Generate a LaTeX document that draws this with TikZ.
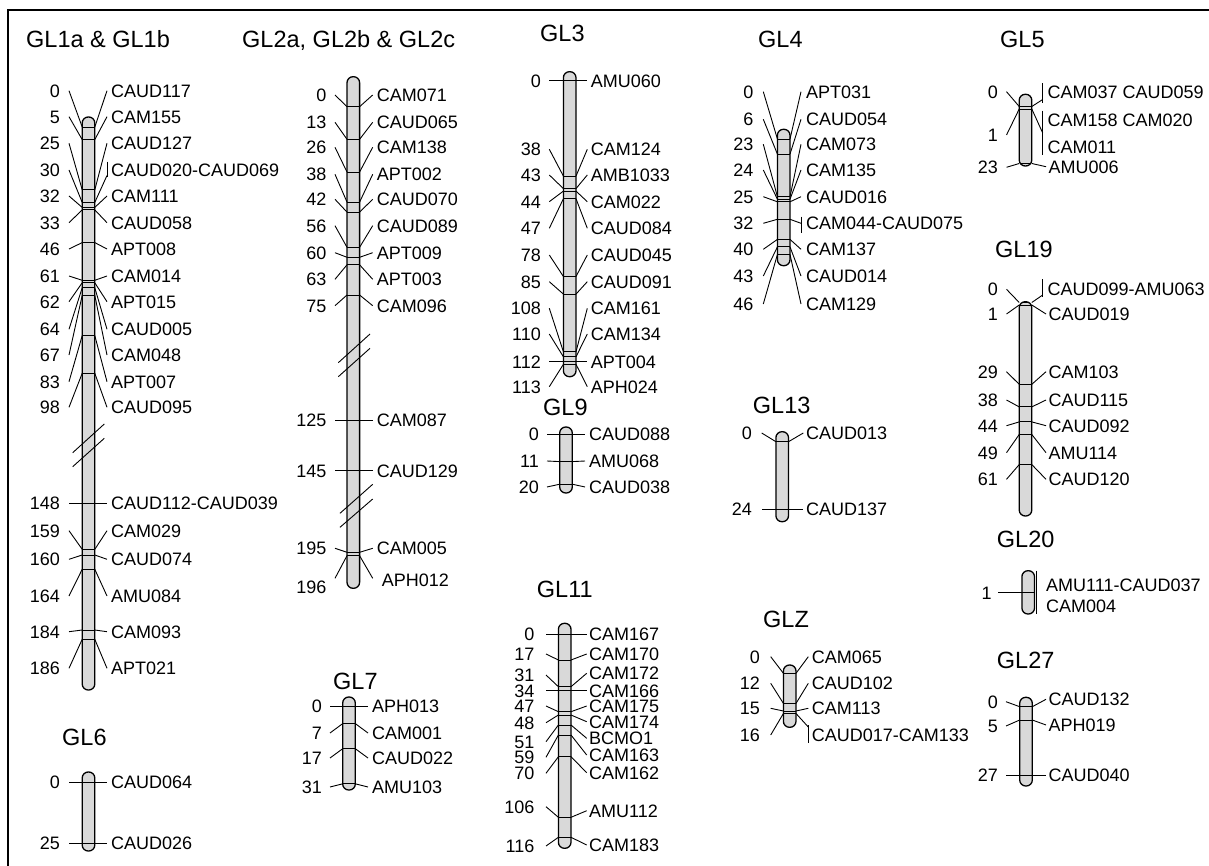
\documentclass[tikz,border=0pt]{standalone}
\usepackage{fontspec}
\setmainfont{Liberation Sans}
\definecolor{barcol}{RGB}{217,217,217}
\newcounter{lbl}
% chromosome geometry: centre x, half width, left/right connector ends, number edge, name start
\newcommand{\setchrom}[6]{\def\cx{#1}\def\hw{#2}\def\xL{#3}\def\xR{#4}\def\numX{#5}\def\nameX{#6}}
\newcommand{\drawbar}[2]{\def\btop{#1}\def\bbot{#2}%
  \fill[barcol,rounded corners=6pt] (\cx-\hw,#1) rectangle (\cx+\hw,#2);}
\newcommand{\outline}{\draw[barline,rounded corners=6pt] (\cx-\hw,\btop) rectangle (\cx+\hw,\bbot);}
\newcommand{\band}[1]{\begin{scope}\clip[rounded corners=6pt] (\cx-\hw,\btop) rectangle (\cx+\hw,\bbot);
  \draw[ln] (\cx-\hw-1,#1) -- (\cx+\hw+1,#1);\end{scope}}
% marker: band y, left label y, right label y, position, name
\newcommand{\mk}[5]{\band{#1}\stepcounter{lbl}%
  \node[lab,anchor=east] (p\thelbl) at (\numX,#2) {#4};
  \node[lab,anchor=west] (m\thelbl) at (\nameX,#3) {#5};
  \draw[ln] (\cx-\hw,#1) -- (\xL,#2);
  \draw[ln] (\cx+\hw,#1) -- (\xR,#3);}
% marker ending on a vertical bar: band y, label y, join y, bar top, bar bottom, position, name, bar x
\newcommand{\mkt}[8]{\band{#1}\stepcounter{lbl}%
  \node[lab,anchor=east] (p\thelbl) at (\numX,#2) {#6};
  \node[lab,anchor=west] (m\thelbl) at (\nameX,#2) {#7};
  \draw[ln] (\cx-\hw,#1) -- (\xL,#2);
  \draw[ln] (\cx+\hw,#1) -- (#8,#3);
  \draw[ln] (#8,#4) -- (#8,#5);}
\tikzset{
  ln/.style={line width=0.9pt},
  barline/.style={line width=1.3pt},
  lab/.style={inner sep=0pt,font=\fontsize{18}{18}\selectfont,text height=12.9pt,text depth=0pt},
  ttl/.style={inner sep=0pt,anchor=west,font=\fontsize{23.5}{23.5}\selectfont,text height=16.8pt,text depth=0pt},
}
\begin{document}
\begin{tikzpicture}[x=1pt,y=-1pt]
\useasboundingbox (0,0) rectangle (1209,866);
\draw[line width=1.3pt] (8,866) -- (8,10) -- (1209,10);

% ---------------- GL1a & GL1b
\node[ttl] (t1) at (26,39) {GL1a \& GL1b};
\setchrom{88.5}{6.3}{69}{107}{60}{111}
\drawbar{117}{690}
\mk{127}{90.7}{90.7}{0}{CAUD117}
\mk{139.6}{116.7}{116.7}{5}{CAM155}
\mk{189.8}{143.3}{143.3}{25}{CAUD127}
\mkt{202.4}{170}{175.5}{161.7}{176.7}{30}{CAUD020-CAUD069}{107}
\mk{207.4}{196}{196}{32}{CAM111}
\mk{209.9}{222.7}{222.7}{33}{CAUD058}
\mk{242.6}{249}{249}{46}{APT008}
\mk{280.3}{276}{276}{61}{CAM014}
\mk{282.8}{301.7}{301.7}{62}{APT015}
\mk{287.8}{329.3}{329.3}{64}{CAUD005}
\mk{295.4}{355}{355}{67}{CAM048}
\mk{335.6}{381.7}{381.7}{83}{APT007}
\mk{373.3}{407.3}{407.3}{98}{CAUD095}
\mk{503.3}{503.3}{503.3}{148}{CAUD112-CAUD039}
\mk{549.3}{530.7}{530.7}{159}{CAM029}
\mk{555}{559.3}{559.3}{160}{CAUD074}
\mk{569.3}{596}{596}{164}{AMU084}
\mk{630}{631.7}{631.7}{184}{CAM093}
\mk{639.3}{668.3}{668.3}{186}{APT021}
\outline
\draw[ln] (72.7,452.7) -- (104.3,424) (72.7,466.7) -- (104.3,438.3);

% ---------------- GL6
\node[ttl] (t6) at (62,737) {GL6};
\drawbar{772}{851}
\mk{782}{782}{782}{0}{CAUD064}
\mk{843}{843}{843}{25}{CAUD026}
\outline

% ---------------- GL2a, GL2b & GL2c
\node[ttl] (t2) at (242,39) {GL2a, GL2b \& GL2c};
\setchrom{353.3}{6.3}{335}{372.7}{326.7}{376.7}
\drawbar{76.7}{588.3}
\mk{106.7}{95}{95}{0}{CAM071}
\mk{139.3}{122.3}{122.3}{13}{CAUD065}
\mk{172}{147.3}{147.3}{26}{CAM138}
\mk{202.1}{174.3}{174.3}{38}{APT002}
\mk{212.1}{199.3}{199.3}{42}{CAUD070}
\mk{247.3}{225.7}{225.7}{56}{CAUD089}
\mk{257.3}{252.7}{252.7}{60}{APT009}
\mk{264.8}{279.3}{279.3}{63}{APT003}
\mk{295}{305.7}{305.7}{75}{CAM096}
\mk{420}{420}{420}{125}{CAM087}
\mk{470.7}{470.7}{470.7}{145}{CAUD129}
\mk{552.3}{548.3}{548.3}{195}{CAM005}
\band{555.7}
\draw[ln] (\cx-\hw,555.7) -- (\xL,578.3) (\cx+\hw,555.7) -- (\xR,578.3);
\node[lab,anchor=east] (p196) at (\numX,586.7) {196};
\node[lab,anchor=west] (m196) at (381.7,580) {APH012};
\outline
\draw[ln] (338.3,362.7) -- (370,334) (338.3,376.7) -- (370,348.3);
\draw[ln] (340,513.3) -- (372.7,484.3) (340,527.3) -- (372.7,499);

% ---------------- GL7
\node[ttl] (t7) at (333,681) {GL7};
\setchrom{349}{6.3}{330}{368}{322}{372}
\drawbar{697}{790}
\mk{706}{706}{706}{0}{APH013}
\mk{723.6}{733}{733}{7}{CAM001}
\mk{748.7}{758}{758}{17}{CAUD022}
\mk{783.8}{787}{787}{31}{AMU103}
\outline

% ---------------- GL3
\node[ttl] (t3) at (540,33) {GL3};
\setchrom{569.7}{6.3}{549.3}{587.3}{541}{590.7}
\drawbar{71.7}{376.7}
\mk{80.7}{80.7}{80.7}{0}{AMU060}
\mk{176.1}{149.3}{149.3}{38}{CAM124}
\mk{188.6}{175}{175}{43}{AMB1033}
\mk{191.1}{201.7}{201.7}{44}{CAM022}
\mk{198.7}{228.3}{228.3}{47}{CAUD084}
\mk{276.5}{255}{255}{78}{CAUD045}
\mk{294.1}{281.7}{281.7}{85}{CAUD091}
\mk{351.8}{308.3}{308.3}{108}{CAM161}
\mk{356.8}{334}{334}{110}{CAM134}
\mk{361.8}{361.8}{361.8}{112}{APT004}
\mk{364.3}{386.7}{386.7}{113}{APH024}
\outline

% ---------------- GL9
\node[ttl] (t9) at (543,407) {GL9};
\setchrom{566}{6.3}{547}{585}{539}{589}
\drawbar{427}{493}
\mk{434}{434}{434}{0}{CAUD088}
\mk{461.6}{461}{461}{11}{AMU068}
\mk{484.2}{487}{487}{20}{CAUD038}
\outline

% ---------------- GL11
\node[ttl] (t11) at (536.7,589.5) {GL11};
\setchrom{564.7}{6.3}{546}{586.7}{534.5}{589}
\drawbar{623.3}{848.3}
\mk{634}{634}{634}{0}{CAM167}
\mk{660}{654}{654}{17}{CAM170}
\mk{686.7}{675}{673.3}{31}{CAM172}
\mk{690.7}{690.7}{690.7}{34}{CAM166}
\mk{711.7}{706}{706}{47}{CAM175}
\mk{715}{722.7}{721.7}{48}{CAM174}
\mk{725}{741.7}{738.3}{51}{BCMO1}
\mk{735}{757.3}{755}{59}{CAM163}
\mk{756.7}{773.3}{772.7}{70}{CAM162}
\mk{817.3}{806.7}{810.7}{106}{AMU112}
\mk{837.3}{846}{845}{116}{CAM183}
\outline

% ---------------- GL4
\node[ttl] (t4) at (758,39) {GL4};
\setchrom{783.7}{6.3}{763.3}{801}{753.5}{806}
\drawbar{129.3}{265.7}
\mk{139}{91.7}{91.7}{0}{APT031}
\mk{154.1}{119.3}{119.3}{6}{CAUD054}
\mk{196.7}{144.3}{144.3}{23}{CAM073}
\mk{199.2}{170}{170}{24}{CAM135}
\mk{201.8}{196.7}{196.7}{25}{CAUD016}
\mkt{219.3}{223.3}{223.3}{216.7}{232.7}{32}{CAM044-CAUD075}{801}
\mk{239.4}{249.3}{249.3}{40}{CAM137}
\mk{246.9}{276}{276}{43}{CAUD014}
\mk{254.5}{304}{304}{46}{CAM129}
\outline

% ---------------- GL13
\node[ttl] (t13) at (752.7,404.7) {GL13};
\setchrom{782.2}{6.3}{761.7}{803.3}{752}{806}
\drawbar{431.7}{521.7}
\mk{441.7}{433}{433}{0}{CAUD013}
\mk{509.3}{509.3}{509.3}{24}{CAUD137}
\outline

% ---------------- GLZ
\node[ttl] (tz) at (763,619) {GLZ};
\setchrom{789.7}{6.3}{770.7}{808.3}{760}{811.7}
\drawbar{665}{727.3}
\mk{673.3}{656.7}{656.7}{0}{CAM065}
\mk{703.4}{683.3}{683.3}{12}{CAUD102}
\mk{711}{708.3}{708.3}{15}{CAM113}
\mkt{713.5}{735}{727}{725}{743.3}{16}{CAUD017-CAM133}{808.3}
\outline

% ---------------- GL5
\node[ttl] (t5) at (1000,39) {GL5};
\setchrom{1025.5}{6.3}{1006.5}{1046}{998}{1048.3}
\drawbar{94.3}{166}
\band{106.5}\band{109}
\draw[ln] (\cx-\hw,106.5) -- (\xL,91.7) (\cx+\hw,106.5) -- (1042.7,99.5);
\draw[ln] (1042.7,83.3) -- (1042.7,102.7);
\node[lab,anchor=east] (p5a) at (\numX,91.7) {0};
\node[lab,anchor=west] (m5a) at (1047.3,91.7) {CAM037 CAUD059};
\draw[ln] (\cx-\hw,109) -- (\xL,135) (\cx+\hw,109) -- (1042.7,133);
\draw[ln] (1042.7,110.7) -- (1042.7,155);
\node[lab,anchor=east] (p5b) at (\numX,135) {1};
\node[lab,anchor=west] (m5b) at (1047.3,120) {CAM158 CAM020};
\node[lab,anchor=west] (m5c) at (1047.3,147.3) {CAM011};
\mk{163.5}{167.3}{166.7}{23}{AMU006}
\outline

% ---------------- GL19
\node[ttl] (t19) at (995,249) {GL19};
\drawbar{301.7}{516}
\band{302.5}
\draw[ln] (\cx-\hw,302.5) -- (\xL,289.3) (\cx+\hw,302.5) -- (1042.7,295);
\draw[ln] (1042.7,279.3) -- (1042.7,297.3);
\node[lab,anchor=east] (p19) at (\numX,289.3) {0};
\node[lab,anchor=west] (m19) at (1047.3,289.3) {CAUD099-AMU063};
\mk{305}{314}{314}{1}{CAUD019}
\mk{384.3}{371.7}{371.7}{29}{CAM103}
\mk{406.9}{400}{400}{38}{CAUD115}
\mk{421.9}{425.7}{425.7}{44}{CAUD092}
\mk{434.5}{452.7}{452.7}{49}{AMU114}
\mk{464.6}{479.3}{479.3}{61}{CAUD120}
\outline

% ---------------- GL20
\node[ttl] (t20) at (996.7,538.7) {GL20};
\setchrom{1028.2}{6.3}{998.3}{1036.7}{991.7}{1046}
\drawbar{570.7}{614}
\draw[ln] (\xL,592.7) -- (\cx+\hw,592.7);
\draw[ln] (1036.7,570.7) -- (1036.7,614);
\node[lab,anchor=east] (p20) at (\numX,592.7) {1};
\node[lab,anchor=west] (m20a) at (\nameX,585) {AMU111-CAUD037};
\node[lab,anchor=west] (m20b) at (\nameX,606) {CAM004};
\outline

% ---------------- GL27
\node[ttl] (t27) at (996.7,660) {GL27};
\setchrom{1026}{6.3}{1006}{1046}{998}{1048.3}
\drawbar{697.3}{786}
\mk{706.7}{701.7}{699.3}{0}{CAUD132}
\mk{720}{726}{725}{5}{APH019}
\mk{775}{775}{775}{27}{CAUD040}
\outline
\end{tikzpicture}
\end{document}
